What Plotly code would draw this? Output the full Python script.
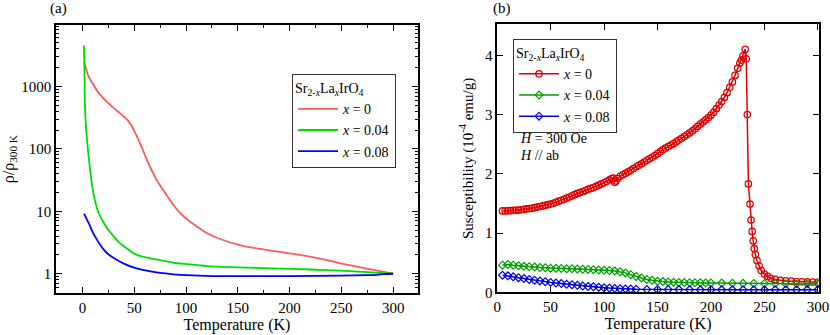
import plotly.graph_objects as go

# ---------- Panel (a): normalized resistivity ----------
T_rho_x0 = [1.5, 3, 5.5, 10, 15, 20, 25, 31, 38, 43, 47, 51, 55, 59, 63, 67, 72, 80, 88, 96,
            104, 112, 120, 135, 152, 168, 184, 200, 217, 233, 249, 265, 281, 300]
rho_x0 = [2450, 2050, 1490, 1100, 810, 650, 540, 440, 350, 295, 240, 180, 129, 90, 62, 45, 31,
          19.5, 12.5, 8.8, 6.8, 5.5, 4.5, 3.5, 2.87, 2.55, 2.33, 2.12, 1.92, 1.7, 1.47, 1.3, 1.15, 1.0]

T_rho_x04 = [1.5, 2, 2.3, 3, 4, 5, 6, 8, 10, 12, 15, 20, 25, 30, 35, 40, 50, 56, 75, 88, 100,
             120, 150, 184, 220, 249, 275, 300]
rho_x04 = [4500, 1500, 560, 300, 170, 110, 75, 38, 22, 15, 10, 6.8, 5.0, 4.0, 3.2, 2.75, 2.1,
           1.92, 1.65, 1.5, 1.43, 1.33, 1.27, 1.22, 1.17, 1.12, 1.06, 1.0]

T_rho_x08 = [1.5, 3, 5, 7, 10, 15, 20, 25, 31, 40, 50, 62, 75, 88, 100, 125, 150, 200, 250,
             275, 285, 290, 300]
rho_x08 = [9.2, 8.2, 7.0, 6.0, 4.6, 3.3, 2.5, 2.05, 1.76, 1.45, 1.25, 1.12, 1.03, 0.98, 0.95,
           0.92, 0.92, 0.92, 0.93, 0.95, 0.96, 0.99, 1.0]

rho_tickvals = [1, 10, 100, 1000]
rho_ticktext = ["1", "10", "100", "1000"]
rho_minor = [0.5, 0.6, 0.7, 0.8, 0.9, 2, 3, 4, 5, 6, 7, 8, 9, 20, 30, 40, 50, 60, 70, 80, 90,
             200, 300, 400, 500, 600, 700, 800, 900, 2000, 3000, 4000, 5000, 6000, 7000, 8000, 9000]
T_ticks = [0, 50, 100, 150, 200, 250, 300]
chi_ticks = [0, 1, 2, 3, 4]

# ---------- Panel (b): susceptibility ----------
T_chi_x0 = [5, 7.5, 10, 12.5, 15, 17.5, 20, 22.5, 25, 27.5, 30, 32.5, 35, 37.5, 40, 42.5, 45,
            47.5, 50, 52.5, 55, 57.5, 60, 62.5, 65, 67.5, 70, 72.5, 75, 77.5, 80, 82.5, 85, 87.5,
            90, 92.5, 95, 97.5, 100, 102.5, 105, 107, 108.5, 110, 111, 112.5, 115, 117.5, 120,
            122.5, 125, 127.5, 130, 132.5, 135, 137.5, 140, 142.5, 145, 147.5, 150, 152.5, 155,
            157.5, 160, 162.5, 165, 167.5, 170, 172.5, 175, 177.5, 180, 182.5, 185, 187.5, 190,
            192.5, 195, 197.5, 200, 202.5, 205, 207.5, 210, 212.5, 215, 217.5, 220, 222.5, 225,
            227, 228.5, 230, 232, 233, 234, 235, 236.5, 237.5, 238.5, 239.5, 240.5, 241.5, 243,
            245, 247, 250, 253, 256, 260, 265, 270, 275, 280, 285, 290, 295, 300]
chi_x0 = [1.375, 1.375, 1.38, 1.38, 1.385, 1.385, 1.39, 1.395, 1.40, 1.41, 1.415, 1.42, 1.43,
          1.44, 1.45, 1.46, 1.47, 1.48, 1.49, 1.505, 1.52, 1.54, 1.555, 1.57, 1.59, 1.61, 1.63,
          1.65, 1.67, 1.685, 1.70, 1.72, 1.74, 1.755, 1.77, 1.79, 1.81, 1.83, 1.85, 1.875, 1.90,
          1.92, 1.93, 1.86, 1.88, 1.92, 1.96, 1.985, 2.01, 2.035, 2.06, 2.09, 2.12, 2.145, 2.17,
          2.20, 2.23, 2.255, 2.28, 2.31, 2.34, 2.375, 2.41, 2.435, 2.46, 2.485, 2.51, 2.54, 2.57,
          2.60, 2.63, 2.66, 2.69, 2.725, 2.76, 2.80, 2.84, 2.875, 2.91, 2.95, 2.99, 3.04, 3.10,
          3.16, 3.22, 3.29, 3.37, 3.46, 3.55, 3.66, 3.78, 3.87, 3.92, 3.99, 4.1, 3.94, 3.0, 1.83,
          1.49, 1.22, 1.03, 0.87, 0.74, 0.64, 0.54, 0.45, 0.37, 0.31, 0.27, 0.24, 0.22, 0.205,
          0.195, 0.19, 0.185, 0.18, 0.178, 0.175, 0.172]

T_chi_x04 = [5, 10, 15, 20, 25, 30, 35, 40, 45, 50, 55, 60, 65, 70, 75, 80, 85, 90, 95, 100,
             105, 110, 115, 120, 125, 130, 135, 140, 145, 150, 155, 160, 165, 170, 175, 180, 185,
             190, 195, 200, 210, 220, 230, 240, 250, 260, 270, 280, 290, 300]
chi_x04 = [0.46, 0.47, 0.46, 0.45, 0.44, 0.435, 0.43, 0.42, 0.415, 0.41, 0.408, 0.405, 0.40,
           0.40, 0.395, 0.39, 0.388, 0.385, 0.38, 0.375, 0.37, 0.36, 0.35, 0.33, 0.30, 0.27,
           0.245, 0.22, 0.205, 0.19, 0.183, 0.178, 0.174, 0.17, 0.167, 0.165, 0.163, 0.162,
           0.161, 0.16, 0.158, 0.155, 0.154, 0.152, 0.151, 0.15, 0.148, 0.147, 0.146, 0.145]

T_chi_x08 = [5, 10, 15, 20, 25, 30, 35, 40, 45, 50, 55, 60, 65, 70, 75, 80, 85, 90, 95, 100,
             105, 110, 115, 120, 125, 130, 140, 150, 160, 170, 180, 190, 200, 210, 220, 230,
             240, 250, 260, 270, 280, 290, 300]
chi_x08 = [0.29, 0.28, 0.265, 0.25, 0.235, 0.22, 0.207, 0.195, 0.182, 0.17, 0.16, 0.15, 0.14,
           0.13, 0.12, 0.11, 0.10, 0.095, 0.087, 0.08, 0.074, 0.068, 0.064, 0.06, 0.058, 0.055,
           0.052, 0.05, 0.049, 0.048, 0.047, 0.046, 0.045, 0.045, 0.045, 0.045, 0.045, 0.045,
           0.045, 0.045, 0.045, 0.045, 0.045]

labels = ["<i>x</i> = 0", "<i>x</i> = 0.04", "<i>x</i> = 0.08"]
legend_title = "Sr<sub>2-<i>x</i></sub>La<sub><i>x</i></sub>IrO<sub>4</sub>"

FONT = "Liberation Serif, Times New Roman, serif"
fig = go.Figure()

colors_a = ["#ff5a5a", "#00dd00", "#0000ff"]
for T, v, lab, c in zip([T_rho_x0, T_rho_x04, T_rho_x08], [rho_x0, rho_x04, rho_x08], labels, colors_a):
    fig.add_trace(go.Scatter(x=T, y=v, mode="lines", name=lab,
                             line=dict(color=c, width=1.8, shape="spline", smoothing=0.5),
                             xaxis="x", yaxis="y", legend="legend"))

colors_b = ["#e00000", "#00a000", "#0000e0"]
symbols = ["circle-open", "diamond-open", "diamond-open"]
msize = [6.5, 6, 6]
for T, v, lab, c, s, ms in zip([T_chi_x0, T_chi_x04, T_chi_x08], [chi_x0, chi_x04, chi_x08], labels, colors_b, symbols, msize):
    fig.add_trace(go.Scatter(x=T, y=v, mode="lines+markers", name=lab,
                             line=dict(color=c, width=1.5),
                             marker=dict(symbol=s, size=ms, color=c, line=dict(width=1.2, color=c)),
                             xaxis="x2", yaxis="y2", legend="legend2"))

axis_common = dict(showline=True, linecolor="black", linewidth=1.5, mirror="ticks", ticks="inside",
                   tickcolor="black", tickwidth=1.2, showgrid=False, zeroline=False, automargin=False,
                   tickfont=dict(family=FONT, size=15, color="black"))
title_font = dict(family=FONT, size=16, color="black")

fig.update_layout(
    width=830, height=335, margin=dict(l=0, r=0, t=0, b=0),
    plot_bgcolor="white", paper_bgcolor="white",
    font=dict(family=FONT, size=14, color="black"),
    xaxis=dict(domain=[0.0675, 0.5036], range=[-25.5, 324], tickvals=T_ticks,
               ticklen=6, minor=dict(ticks="inside", ticklen=3, dtick=25, tick0=0, tickcolor="black", showgrid=False),
               title=dict(text="Temperature (K)", font=title_font, standoff=4),
               anchor="y", **axis_common),
    yaxis=dict(domain=[0.125, 0.925], type="log", range=[-0.31, 3.98], tickvals=rho_tickvals,
               ticktext=rho_ticktext, ticklen=6,
               minor=dict(ticks="inside", ticklen=3, tickvals=rho_minor, tickcolor="black", showgrid=False),
               title=dict(text="ρ/ρ<sub>300 K</sub>", font=title_font, standoff=6),
               anchor="x", **axis_common),
    xaxis2=dict(domain=[0.599, 0.9867], range=[0, 301], tickvals=T_ticks,
                ticklen=6, title=dict(text="Temperature (K)", font=title_font, standoff=4),
                anchor="y2", **axis_common),
    yaxis2=dict(domain=[0.127, 0.927], range=[0, 4.52], tickvals=chi_ticks, ticklen=6,
                title=dict(text="Susceptibility (10<sup>-4</sup> emu/g)", font=dict(family=FONT, size=15, color="black"), standoff=8),
                anchor="x2", **axis_common),
    legend=dict(x=292 / 830, y=1 - 74 / 335, xanchor="left", yanchor="top", bgcolor="white",
                bordercolor="#333333", borderwidth=1, font=dict(family=FONT, size=14),
                title=dict(text=legend_title, font=dict(family=FONT, size=14)),
                itemwidth=40, tracegroupgap=0),
    legend2=dict(x=513 / 830, y=1 - 39 / 335, xanchor="left", yanchor="top", bgcolor="white",
                 bordercolor="#333333", borderwidth=1, font=dict(family=FONT, size=14),
                 title=dict(text=legend_title, font=dict(family=FONT, size=14)),
                 itemwidth=40, tracegroupgap=0),
)

fig.add_annotation(text="(a)", x=58 / 830, y=1 - 8 / 335, xref="paper", yref="paper",
                   xanchor="center", yanchor="middle", showarrow=False, font=dict(family=FONT, size=15))
fig.add_annotation(text="(b)", x=502 / 830, y=1 - 8 / 335, xref="paper", yref="paper",
                   xanchor="center", yanchor="middle", showarrow=False, font=dict(family=FONT, size=15))
fig.add_annotation(text="<i>H</i> = 300 Oe", x=518 / 830, y=1 - 138 / 335, xref="paper", yref="paper",
                   xanchor="left", yanchor="middle", showarrow=False, font=dict(family=FONT, size=14))
fig.add_annotation(text="<i>H</i> // ab", x=518 / 830, y=1 - 155 / 335, xref="paper", yref="paper",
                   xanchor="left", yanchor="middle", showarrow=False, font=dict(family=FONT, size=14))

fig.write_html("out.html", config={"displayModeBar": False},
               post_script="document.body.style.margin='0px';")
